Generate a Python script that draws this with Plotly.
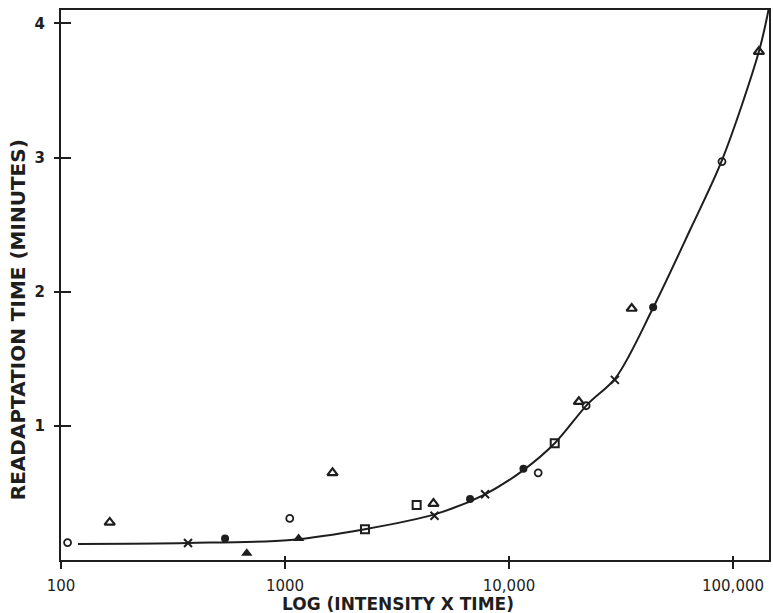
import plotly.graph_objects as go

# ---- data ----
open_circle_x = [107, 1050, 13500, 22100, 89300]
open_circle_y = [0.13, 0.31, 0.65, 1.15, 2.97]

filled_circle_x = [540, 6700, 11600, 44000]
filled_circle_y = [0.16, 0.455, 0.68, 1.885]

open_triangle_x = [165, 1630, 4600, 20500, 35300, 130500]
open_triangle_y = [0.28, 0.65, 0.42, 1.18, 1.875, 3.79]

filled_triangle_x = [675, 1150]
filled_triangle_y = [0.05, 0.16]

open_square_x = [2275, 3870, 16000]
open_square_y = [0.23, 0.41, 0.87]

cross_x = [369, 4650, 7820, 29700]
cross_y = [0.127, 0.33, 0.49, 1.343]

curve_x = [119, 369, 1060, 2275, 4650, 7820, 11600, 16000, 22400, 30000,
           44000, 64300, 89300, 130500, 144000]
curve_y = [0.12, 0.127, 0.15, 0.23, 0.34, 0.49, 0.67, 0.87, 1.16, 1.36,
           1.88, 2.46, 2.98, 3.79, 4.10]

x_tickvals = [100, 1000, 10000, 100000]
x_ticktext = ["100", "1000", "10,000", "100,000"]
y_tickvals = [1, 2, 3, 4]
y_ticktext = ["1", "2", "3", "4"]

x_title = "LOG (INTENSITY X TIME)"
y_title = "READAPTATION TIME (MINUTES)"

INK = "#1e1e1e"
X_RANGE = [2, 5.1607]
Y_RANGE = [0, 4.10]

fig = go.Figure()

fig.add_trace(go.Scatter(x=curve_x, y=curve_y, mode="lines",
                         line=dict(color=INK, width=2, shape="spline", smoothing=0.9),
                         hoverinfo="skip", showlegend=False))


def pts(x, y, symbol, size, lw=1.8):
    fig.add_trace(go.Scatter(
        x=x, y=y, mode="markers", showlegend=False,
        marker=dict(symbol=symbol, size=size, color=INK,
                    line=dict(color=INK, width=lw))))


pts(open_circle_x, open_circle_y, "circle-open", 7)
pts(filled_circle_x, filled_circle_y, "circle", 8, 0)
pts(open_triangle_x, open_triangle_y, "triangle-up-open", 9, 2.2)
pts(filled_triangle_x, filled_triangle_y, "triangle-up", 10, 0)
pts(open_square_x, open_square_y, "square-open", 8, 2)
pts(cross_x, cross_y, "x-thin-open", 8, 2)

# invisible trace on overlay axes (used to draw the inner half of tick marks)
fig.add_trace(go.Scatter(x=curve_x, y=curve_y, xaxis="x2", yaxis="y2",
                         mode="lines", line=dict(width=0), opacity=0,
                         hoverinfo="skip", showlegend=False))

tick_font = dict(family="DejaVu Sans", size=15, color=INK)

fig.update_layout(
    width=773, height=613,
    margin=dict(l=61, r=4, t=10, b=53, autoexpand=False),
    paper_bgcolor="white", plot_bgcolor="white",
    xaxis=dict(type="log", range=X_RANGE, tickmode="array",
               tickvals=x_tickvals, ticktext=x_ticktext, automargin=False,
               showgrid=False, zeroline=False,
               showline=True, linecolor=INK, linewidth=2, mirror=True,
               ticks="outside", ticklen=7, tickwidth=2, tickcolor=INK,
               ticklabelstandoff=4,
               tickfont=tick_font),
    yaxis=dict(range=Y_RANGE, tickmode="array", automargin=False,
               tickvals=y_tickvals, ticktext=y_ticktext,
               showgrid=False, zeroline=False,
               showline=True, linecolor=INK, linewidth=2, mirror=True,
               ticks="outside", ticklen=5, tickwidth=1.5, tickcolor=INK,
               ticklabelstandoff=6,
               tickfont=dict(family="DejaVu Sans", size=15, color=INK, weight="bold")),
    xaxis2=dict(type="log", range=X_RANGE, overlaying="x", anchor="y2", side="bottom",
                tickmode="array", tickvals=x_tickvals, showticklabels=False,
                automargin=False,
                showgrid=False, zeroline=False, showline=False,
                ticks="inside", ticklen=4, tickwidth=2, tickcolor=INK),
    yaxis2=dict(range=Y_RANGE, overlaying="y", anchor="x2", side="left",
                tickmode="array", tickvals=y_tickvals, showticklabels=False,
                automargin=False,
                showgrid=False, zeroline=False, showline=False,
                ticks="inside", ticklen=10, tickwidth=1.5, tickcolor=INK),
    annotations=[
        dict(text=x_title, xref="paper", yref="paper", x=0.476, y=-0.08,
             xanchor="center", yanchor="middle", showarrow=False,
             font=dict(family="DejaVu Sans", size=17, color=INK, weight="bold")),
        dict(text=y_title, xref="paper", yref="paper", x=-0.0607, y=0.436,
             xanchor="center", yanchor="middle", showarrow=False, textangle=-90,
             font=dict(family="DejaVu Sans", size=20, color=INK, weight="bold")),
    ],
)

fig.write_html("out.html", config={"displayModeBar": False},
               post_script="document.body.style.margin='0';"
                           "document.body.style.overflow='hidden';")
